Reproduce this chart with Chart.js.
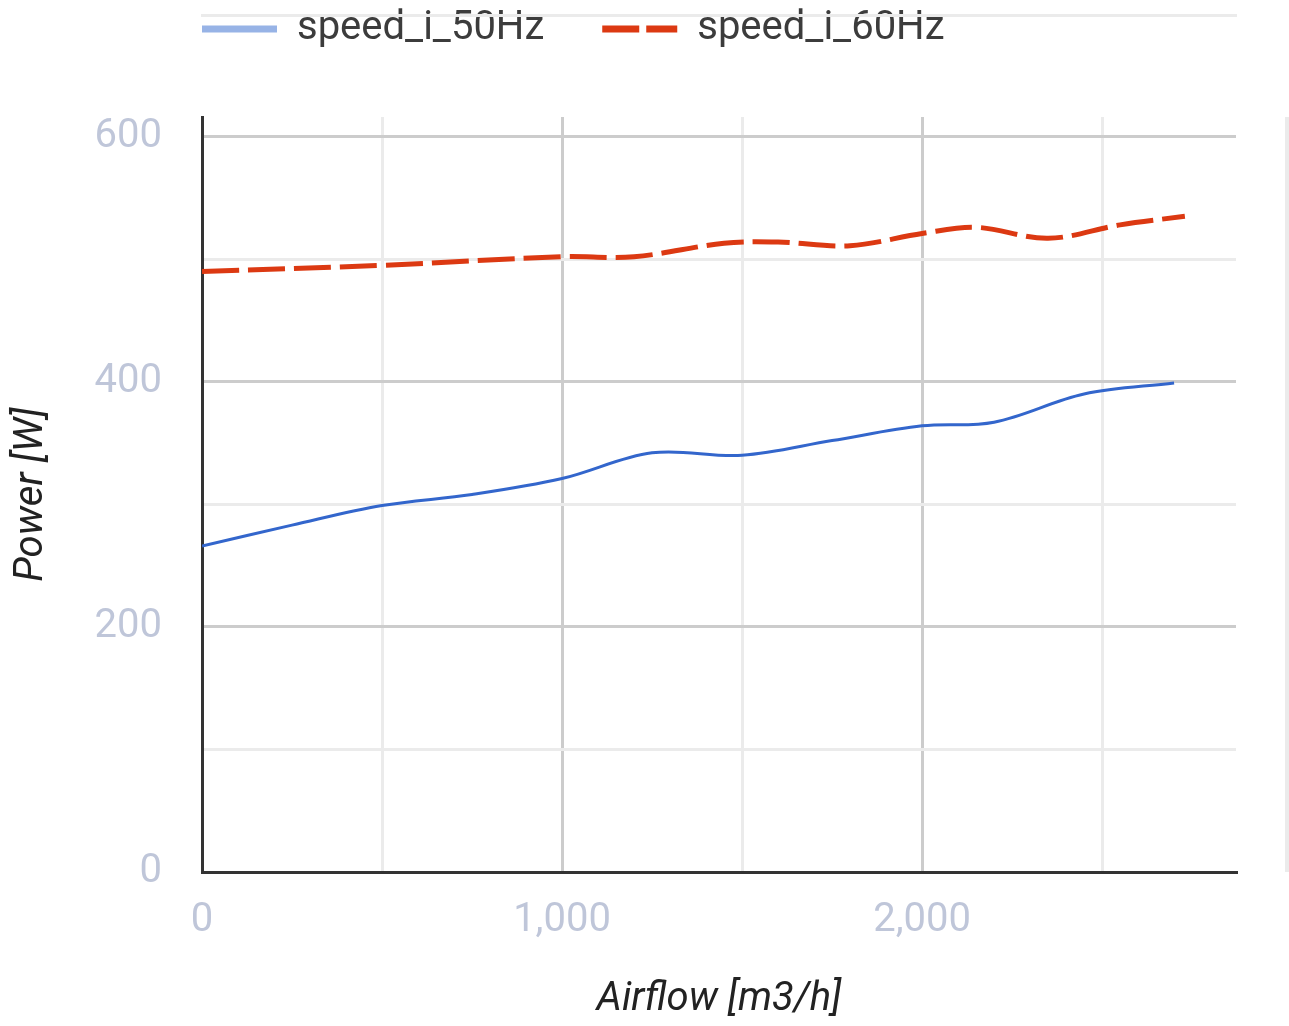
<!DOCTYPE html>
<html>
<head>
<meta charset="utf-8">
<script src="https://cdn.jsdelivr.net/npm/chart.js@4/dist/chart.umd.min.js"></script>
<style>
  html, body { margin: 0; padding: 0; background: #ffffff; }
  canvas { display: block; }
</style>
</head>
<body>
<canvas id="powerChart" width="1289" height="1026"></canvas>
<script>
// airflow [m3/h] and power [W] for each fan speed
const airflow50 = [0, 250, 500, 750, 1000, 1250, 1500, 1750, 2000, 2200, 2450, 2700];
const power50 = [266, 283, 299, 308, 321, 342, 340, 352, 364, 367, 390, 399];

const airflow60 = [0, 500, 1000, 1200, 1450, 1600, 1800, 2000, 2150, 2350, 2550, 2730];
const power60 = [490, 495, 502, 502, 513, 514, 511, 521, 526, 517, 528, 535];

const seriesNames = ['speed_i_50Hz', 'speed_i_60Hz'];
const lineColors = ['#3366cc', '#dc3912'];
const legendColors = ['#97b3e6', '#dc3912'];
const legendDashes = [[], [37, 7]];

// gridline positions; labelled ones get the darker line
const xTicks = [0, 500, 1000, 1500, 2000, 2500];
const xLabelled = [0, 1000, 2000];
const yTicks = [0, 100, 200, 300, 400, 500, 600];
const yLabelled = [0, 200, 400, 600];

const toPoints = (xs, ys) => xs.map((x, i) => ({ x: x, y: ys[i] }));

/* --------------- legend sizing: fixed band above the plot --------------- */
const legendBand = {
  id: 'legendBand',
  beforeInit(chart) {
    const fit = chart.legend.fit;
    chart.legend.fit = function () {
      fit.call(this);
      this.height = 117;
    };
  },
  afterUpdate(chart) {
    chart.legend.left = 144;
    chart.legend.top = -49;
  },
};

/* --------------- thin frame lines around the plot --------------- */
const frameLines = {
  id: 'frameLines',
  afterDraw(chart) {
    const ctx = chart.ctx;
    const area = chart.chartArea;
    ctx.save();
    ctx.fillStyle = '#ebebeb';
    ctx.fillRect(area.left - 1, 14, area.right - area.left + 2, 3);
    ctx.fillRect(1285, area.top, 4, area.bottom - area.top);
    ctx.restore();
  },
};

const gridColor = (labelled) => (c) =>
  c.tick && labelled.includes(c.tick.value) ? '#cccccc' : '#ebebeb';

new Chart(document.getElementById('powerChart'), {
  type: 'line',
  plugins: [legendBand, frameLines],
  data: {
    datasets: [
      {
        label: seriesNames[0],
        data: toPoints(airflow50, power50),
        borderColor: lineColors[0],
        backgroundColor: lineColors[0],
        borderWidth: 3,
        pointRadius: 0,
        tension: 0.35,
      },
      {
        label: seriesNames[1],
        data: toPoints(airflow60, power60),
        borderColor: lineColors[1],
        backgroundColor: lineColors[1],
        borderWidth: 5,
        borderDash: [37, 9],
        pointRadius: 0,
        tension: 0.35,
      },
    ],
  },
  options: {
    responsive: false,
    animation: false,
    layout: { padding: { top: 0, right: 53, bottom: 0, left: 0 } },
    plugins: {
      tooltip: { enabled: false },
      legend: {
        display: true,
        position: 'top',
        align: 'start',
        labels: {
          usePointStyle: true,
          pointStyle: 'line',
          pointStyleWidth: 75,
          padding: 58,
          color: '#3c3c3c',
          font: { family: 'Roboto', size: 40 },
          generateLabels(chart) {
            const items = Chart.defaults.plugins.legend.labels.generateLabels(chart);
            items.forEach((item, i) => {
              item.strokeStyle = legendColors[i];
              item.lineWidth = 7;
              item.lineDash = legendDashes[i];
              item.lineCap = 'butt';
              item.pointStyle = 'line';
            });
            return items;
          },
        },
      },
    },
    scales: {
      x: {
        type: 'linear',
        min: 0,
        max: 2872,
        afterFit(scale) { scale.height = 154; },
        afterBuildTicks(scale) {
          scale.ticks = xTicks.map((v) => ({ value: v }));
        },
        ticks: {
          includeBounds: false,
          padding: 25,
          color: '#bfc6d9',
          font: { family: 'Roboto', size: 40 },
          maxRotation: 0,
          autoSkip: false,
          callback: (v) => (xLabelled.includes(v) ? v.toLocaleString('en-US') : ''),
        },
        grid: {
          drawTicks: false,
          color: gridColor(xLabelled),
          lineWidth: 3,
        },
        border: { color: '#333333', width: 3 },
        title: {
          display: true,
          text: 'Airflow [m3/h]',
          color: '#222222',
          font: { family: 'Roboto', size: 40, style: 'italic', lineHeight: 1.2 },
          padding: { top: 0, bottom: 2 },
        },
      },
      y: {
        min: 0,
        max: 616,
        afterFit(scale) { scale.width = 202; },
        afterBuildTicks(scale) {
          scale.ticks = yTicks.map((v) => ({ value: v }));
        },
        ticks: {
          includeBounds: false,
          padding: 40,
          color: '#bfc6d9',
          font: { family: 'Roboto', size: 40 },
          autoSkip: false,
          callback: (v) => (yLabelled.includes(v) ? v : ''),
        },
        grid: {
          drawTicks: false,
          color: gridColor(yLabelled),
          lineWidth: 3,
        },
        border: { color: '#333333', width: 3 },
        title: {
          display: true,
          text: 'Power [W]',
          color: '#222222',
          font: { family: 'Roboto', size: 40, style: 'italic', lineHeight: 1.2 },
          padding: { top: 8, bottom: 0 },
        },
      },
    },
  },
});
</script>
</body>
</html>
